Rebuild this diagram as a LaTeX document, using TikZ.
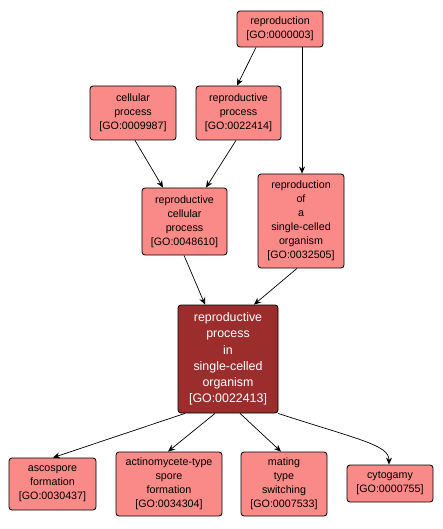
\documentclass[tikz,border=0pt]{standalone}
\usepackage{fontspec}
\setmainfont{Liberation Sans}
\usetikzlibrary{arrows.meta}
\definecolor{lightred}{HTML}{FA8A87}
\definecolor{darkred}{HTML}{9B2D2D}
\begin{document}
\begin{tikzpicture}[x=1pt,y=-1pt,
  term/.style={draw=black, line width=0.8pt, rounded corners=3pt, fill=lightred, align=center,
    font=\fontsize{10.7}{14}\selectfont, inner sep=0pt, anchor=center},
  mainterm/.style={term, fill=darkred, text=white, font=\fontsize{12.4}{16.2}\selectfont},
  edge/.style={-{Stealth[length=7pt,width=6pt]}, line width=0.7pt}]
\useasboundingbox (0,0) rectangle (443,529);
\node[term, minimum width=86pt, minimum height=36pt] (n3) at (280,29) {reproduction\\{}[GO:0000003]};
\node[term, minimum width=86pt, minimum height=54pt] (n9987) at (133,113) {cellular\\process\\{}[GO:0009987]};
\node[term, minimum width=85pt, minimum height=54pt] (n22414) at (238.5,113) {reproductive\\process\\{}[GO:0022414]};
\node[term, minimum width=85pt, minimum height=67pt] (n48610) at (184.5,221.5) {reproductive\\cellular\\process\\{}[GO:0048610]};
\node[term, minimum width=86pt, minimum height=94pt] (n32505) at (301,221) {reproduction\\of\\a\\single-celled\\organism\\{}[GO:0032505]};
\node[mainterm, minimum width=100pt, minimum height=108pt] (n22413) at (228,359) {reproductive\\process\\in\\single-celled\\organism\\{}[GO:0022413]};
\node[term, minimum width=87pt, minimum height=52pt] (n30437) at (52.5,484) {ascospore\\formation\\{}[GO:0030437]};
\node[term, minimum width=106pt, minimum height=64pt] (n34304) at (169,484) {actinomycete-type\\spore\\formation\\{}[GO:0034304]};
\node[term, minimum width=86pt, minimum height=64pt] (n7533) at (284,484) {mating\\type\\switching\\{}[GO:0007533]};
\node[term, minimum width=86pt, minimum height=37pt] (n755) at (390,483.5) {cytogamy\\{}[GO:0000755]};
\draw[edge] (n3.south -| 256,0) -- (n22414.north -| 237,0);
\draw[edge] (n3.south -| 302,0) -- (n32505.north -| 302,0);
\draw[edge] (n9987.south -| 135,0) -- (n48610.north -| 163,0);
\draw[edge] (n22414.south -| 236,0) -- (n48610.north -| 206,0);
\draw[edge] (n48610.south -| 184,0) -- (n22413.north -| 205,0);
\draw[edge] (n32505.south -| 297,0) -- (n22413.north -| 254,0);
\draw[edge] (n22413.south -| 185,0) -- (n30437.north -| 53,0);
\draw[edge] (n22413.south -| 215,0) -- (n34304.north -| 168,0);
\draw[edge] (n22413.south -| 240,0) -- (n7533.north -| 281,0);
\draw[edge] (n22413.south -| 278,0) .. controls (360,440) and (389,445) .. (n755.north -| 389,0);
\end{tikzpicture}
\end{document}
